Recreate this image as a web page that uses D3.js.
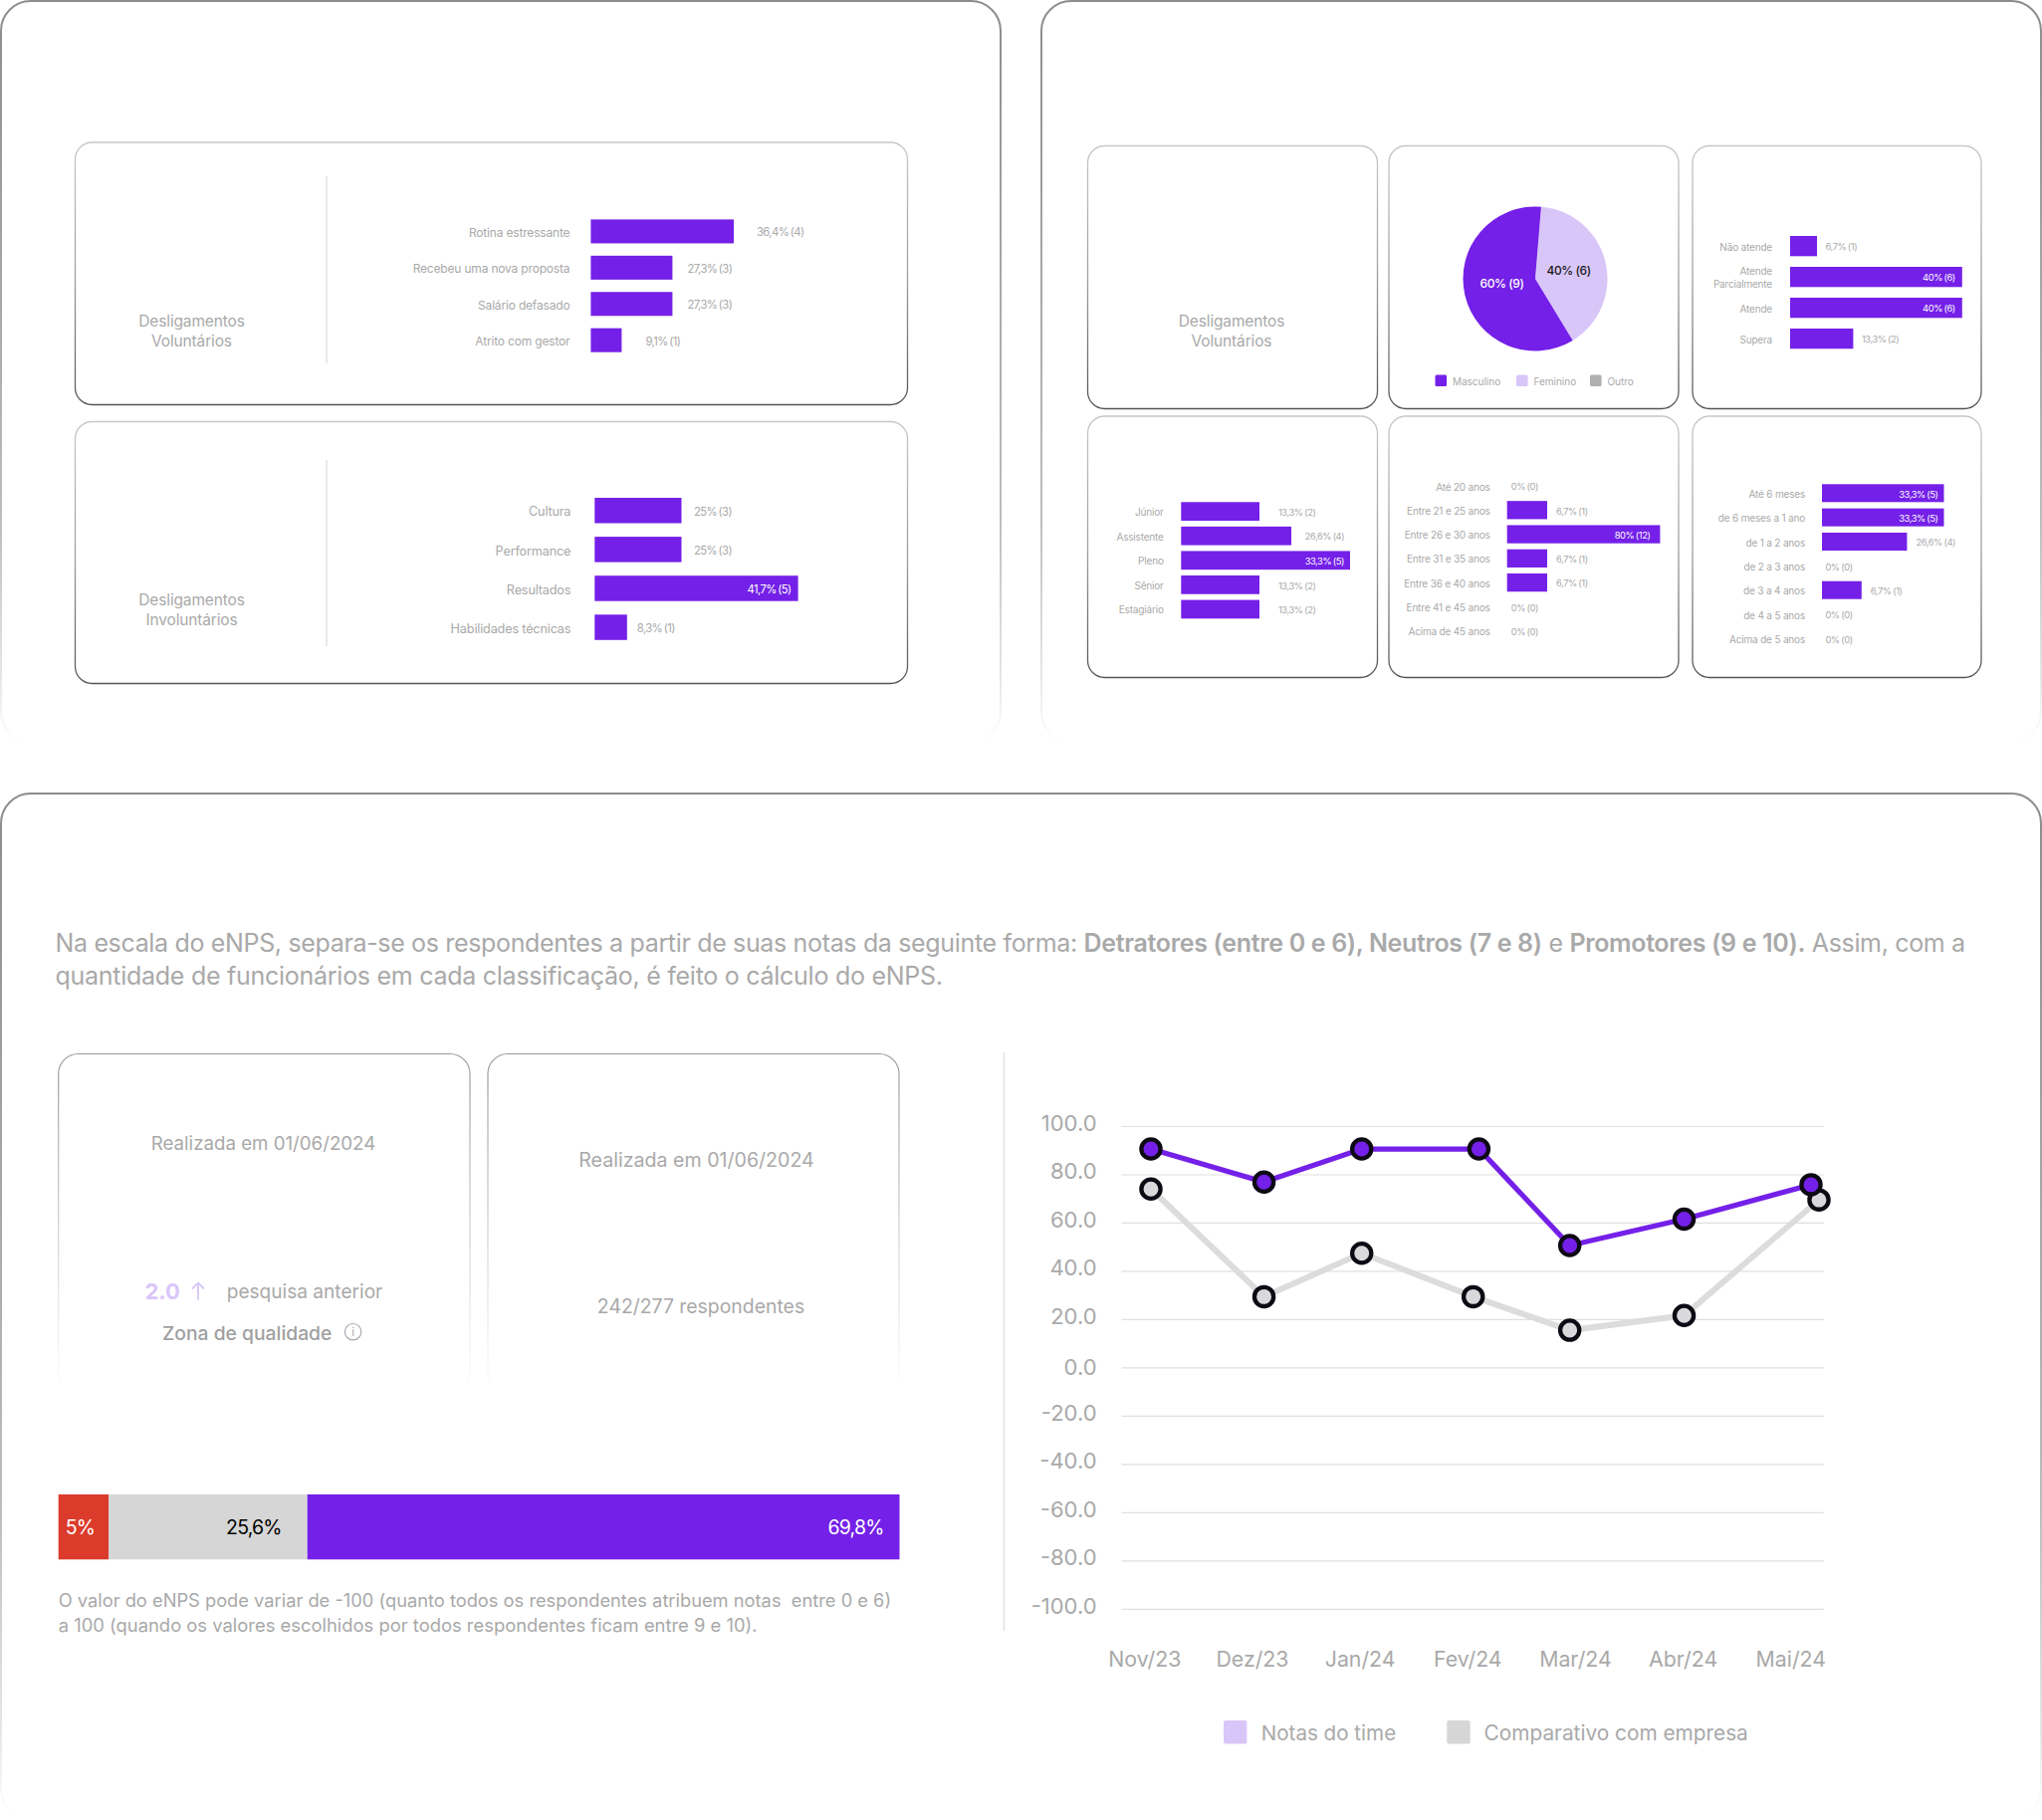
<!DOCTYPE html>
<html lang="pt">
<head>
<meta charset="utf-8">
<script src="https://cdn.jsdelivr.net/npm/d3@7"></script>
<style>
  body { margin: 0; background: #fff; }
  svg { display: block; font-family: "Inter", sans-serif; }
  text { fill: #a9a9a9; }
</style>
</head>
<body>
<div id="chart"></div>
<script>
// Motivos de desligamento
const voluntaryLabels = ["Rotina estressante", "Recebeu uma nova proposta", "Salário defasado", "Atrito com gestor"];
const voluntaryValues = [36.4, 27.3, 27.3, 9.1];
const voluntaryCounts = [4, 3, 3, 1];

const involuntaryLabels = ["Cultura", "Performance", "Resultados", "Habilidades técnicas"];
const involuntaryValues = [25, 25, 41.7, 8.3];
const involuntaryCounts = [3, 3, 5, 1];

// Perfil dos desligados
const genderLabels = ["Feminino", "Masculino", "Outro"];
const genderValues = [40, 60, 0];
const genderCounts = [6, 9, 0];

const performanceLabels = ["Não atende", "Atende\nParcialmente", "Atende", "Supera"];
const performanceValues = [6.7, 40, 40, 13.3];
const performanceCounts = [1, 6, 6, 2];

const levelLabels = ["Júnior", "Assistente", "Pleno", "Sênior", "Estagiário"];
const levelValues = [13.3, 26.6, 33.3, 13.3, 13.3];
const levelCounts = [2, 4, 5, 2, 2];

const ageLabels = ["Até 20 anos", "Entre 21 e 25 anos", "Entre 26 e 30 anos", "Entre 31 e 35 anos", "Entre 36 e 40 anos", "Entre 41 e 45 anos", "Acima de 45 anos"];
const ageValues = [0, 6.7, 80, 6.7, 6.7, 0, 0];
const ageCounts = [0, 1, 12, 1, 1, 0, 0];

const tenureLabels = ["Até 6 meses", "de 6 meses a 1 ano", "de 1 a 2 anos", "de 2 a 3 anos", "de 3 a 4 anos", "de 4 a 5 anos", "Acima de 5 anos"];
const tenureValues = [33.3, 33.3, 26.6, 0, 6.7, 0, 0];
const tenureCounts = [5, 5, 4, 0, 1, 0, 0];

// eNPS
const enpsLabels = ["Detratores", "Neutros", "Promotores"];
const enpsValues = [5, 25.6, 69.8];

const months = ["Nov/23", "Dez/23", "Jan/24", "Fev/24", "Mar/24", "Abr/24", "Mai/24"];
const teamScores = [90.5, 76.8, 90.5, 90.5, 50.5, 61.4, 75.7];
const companyScores = [73.9, 29.3, 47.3, 29.3, 15.4, 21.5, 69.4];
const yTicks = [100, 80, 60, 40, 20, 0, -20, -40, -60, -80, -100];

const purple = "#7420e8", lilac = "#d9c6f9", gray = "#d6d6d6", red = "#dc3b2b", textGray = "#a9a9a9";

const svg = d3.select("#chart").append("svg")
    .attr("width", 2051)
    .attr("height", 1828);

// Gradients for the card borders
const defs = svg.append("defs");
function addGradient(id, stops) {
    const g = defs.append("linearGradient").attr("id", id)
        .attr("x1", 0).attr("y1", 0).attr("x2", 0).attr("y2", 1);
    stops.forEach(s => g.append("stop").attr("offset", s[0]).attr("stop-color", s[1]));
}
addGradient("panelFade", [[0, "#8c8c8c"], [0.7, "#bdbdbd"], [0.92, "#e8e8e8"], [1, "#ffffff"]]);
addGradient("cardEdge", [[0, "#c8c8c8"], [0.5, "#a0a0a0"], [1, "#555555"]]);
addGradient("cardFade", [[0, "#999999"], [0.55, "#d4d4d4"], [1, "#ffffff"]]);

function box(x, y, w, h, r, stroke, sw) {
    svg.append("rect")
        .attr("x", x).attr("y", y).attr("width", w).attr("height", h)
        .attr("rx", r)
        .attr("fill", "none")
        .attr("stroke", `url(#${stroke})`)
        .attr("stroke-width", sw);
}

function label(x, y, str, size, anchor, color, weight, spacing) {
    return svg.append("text")
        .attr("x", x).attr("y", y).attr("dy", ".35em")
        .attr("text-anchor", anchor || "start")
        .style("font-size", size + "px")
        .style("font-weight", weight || 400)
        .style("letter-spacing", (spacing || 0) + "px")
        .style("fill", color || textGray)
        .text(str);
}

// Big panels
box(1, 1, 1004, 744, 30, "panelFade", 2);
box(1046, 1, 1004, 744, 30, "panelFade", 2);
box(1, 797, 2049, 1030, 30, "panelFade", 2);

// Inner cards
[[75.5, 143, 836, 263.5], [75.5, 423.5, 836, 263],
 [1092.5, 146.5, 291, 264], [1395, 146.5, 291, 264], [1700, 146.5, 290, 264],
 [1092.5, 418, 291, 262.5], [1395, 418, 291, 262.5], [1700, 418, 290, 262.5]]
    .forEach(c => box(c[0], c[1], c[2], c[3], 17, "cardEdge", 1.3));

[[177, 365], [462, 649]].forEach(d => {
    svg.append("line").attr("x1", 328).attr("x2", 328).attr("y1", d[0]).attr("y2", d[1])
        .attr("stroke", "#e2e2e2").attr("stroke-width", 1.5);
});

label(192.5, 323, "Desligamentos", 15.5, "middle", null, 400, -0.15);
label(192.5, 343, "Voluntários", 15.5, "middle", null, 400, -0.15);
label(192.5, 603, "Desligamentos", 15.5, "middle", null, 400, -0.15);
label(192.5, 623, "Involuntários", 15.5, "middle", null, 400, -0.15);
label(1237, 323, "Desligamentos", 15.5, "middle", null, 400, -0.15);
label(1237, 343, "Voluntários", 15.5, "middle", null, 400, -0.15);

const percent = (v, c) => `${String(v).replace(".", ",")}% (${c})`;

// Horizontal bars. The drawn lengths are not proportional in the original,
// so each chart has its own piecewise scale.
function barChart(cfg) {
    const x = d3.scaleLinear().domain(cfg.domain).range(cfg.lengths);
    const y = d3.scaleBand().domain(cfg.labels).range(cfg.yRange).paddingInner(cfg.pad);
    const top = d3.max(cfg.values);
    const g = svg.append("g").attr("transform", `translate(${cfg.x0},0)`);

    g.selectAll(".bar")
        .data(cfg.labels.filter((d, i) => cfg.values[i] > 0))
        .enter().append("rect")
        .attr("class", "bar")
        .attr("x", 0)
        .attr("y", d => y(d))
        .attr("width", d => x(cfg.values[cfg.labels.indexOf(d)]))
        .attr("height", y.bandwidth())
        .attr("fill", purple);

    cfg.labels.forEach((name, i) => {
        const cy = y(name) + y.bandwidth() / 2;
        const lines = name.split("\n");
        lines.forEach((line, k) => {
            g.append("text")
                .attr("x", cfg.labelRight)
                .attr("y", cy + (k - (lines.length - 1) / 2) * cfg.size * 1.35)
                .attr("dy", ".45em")
                .attr("text-anchor", "end")
                .style("font-size", (cfg.labelSize || cfg.size) + "px")
                .style("letter-spacing", "-0.18px")
                .text(line);
        });

        const v = cfg.values[i];
        const inside = cfg.inside && v === top;
        g.append("text")
            .attr("x", inside ? x(v) - cfg.insideGap : x(v) + cfg.gaps[i])
            .attr("y", cy)
            .attr("dy", ".45em")
            .attr("text-anchor", inside ? "end" : "start")
            .style("font-size", (cfg.size * 0.94) + "px")
            .style("letter-spacing", (cfg.size > 10 ? -0.6 : -0.45) + "px")
            .style("word-spacing", (cfg.size > 10 ? -1 : -0.6) + "px")
            .style("fill", inside ? "#fff" : textGray)
            .text(percent(v, cfg.counts[i]));
    });
}

barChart({
    labels: voluntaryLabels, values: voluntaryValues, counts: voluntaryCounts,
    x0: 593.4, yRange: [220.4, 353.7], pad: 0.34, size: 12,
    domain: [0, 9.1, 27.3, 36.4], lengths: [0, 31, 82, 143.6],
    labelRight: -21, gaps: [23, 15, 15, 24], inside: false
});
barChart({
    labels: involuntaryLabels, values: involuntaryValues, counts: involuntaryCounts,
    x0: 597.3, yRange: [500, 642.8], pad: 0.348, size: 12, labelSize: 12.7,
    domain: [0, 8.3, 25, 41.7], lengths: [0, 32.5, 87.2, 204.3],
    labelRight: -24, gaps: [12.5, 12.5, 0, 10], inside: true, insideGap: 7
});
barChart({
    labels: performanceLabels, values: performanceValues, counts: performanceCounts,
    x0: 1798, yRange: [237, 350.3], pad: 0.345, size: 10,
    domain: [0, 6.7, 13.3, 40], lengths: [0, 27, 63.4, 172.8],
    labelRight: -18, gaps: [8.5, 0, 0, 8.5], inside: true, insideGap: 7
});
barChart({
    labels: levelLabels, values: levelValues, counts: levelCounts,
    x0: 1186.3, yRange: [504.3, 621.3], pad: 0.238, size: 10,
    domain: [0, 13.3, 26.6, 33.3], lengths: [0, 78.7, 110.7, 169.7],
    labelRight: -17.6, gaps: [19, 13.6, 0, 19, 19], inside: true, insideGap: 6
});
barChart({
    labels: ageLabels, values: ageValues, counts: ageCounts,
    x0: 1513.7, yRange: [478.9, 642.8], pad: 0.247, size: 10,
    domain: [0, 6.7, 80], lengths: [0, 40.3, 153.7],
    labelRight: -17, gaps: [4, 9, 0, 9, 9, 4, 4], inside: true, insideGap: 10
});
barChart({
    labels: tenureLabels, values: tenureValues, counts: tenureCounts,
    x0: 1830, yRange: [486.3, 650.4], pad: 0.26, size: 10,
    domain: [0, 6.7, 26.6, 33.3], lengths: [0, 39.8, 85.4, 122.5],
    labelRight: -17, gaps: [0, 0, 9, 3.4, 9, 3.4, 3.4], inside: true, insideGap: 6
});

// Pie
const pieStart = 4.7 * Math.PI / 180;
const pie = d3.pie().sort(null).startAngle(pieStart).endAngle(pieStart + 2 * Math.PI);
const arc = d3.arc().innerRadius(0).outerRadius(72.5);
const pieColors = [lilac, purple, "#b0b0b0"];
const pieGroup = svg.append("g").attr("transform", "translate(1542,280)");
pieGroup.selectAll("path")
    .data(pie(genderValues))
    .enter().append("path")
    .attr("d", arc)
    .attr("fill", (d, i) => pieColors[i]);

label(1575.6, 271.7, percent(genderValues[0], genderCounts[0]), 12, "middle", "#1a1a1a", 500, -0.4);
label(1508.5, 284.7, percent(genderValues[1], genderCounts[1]), 12, "middle", "#fff", 500, -0.4);

// Pie legend
const pieLegend = [
    {name: genderLabels[1], color: purple, x: 1441.5},
    {name: genderLabels[0], color: lilac, x: 1523},
    {name: genderLabels[2], color: "#b0b0b0", x: 1597}
];
pieLegend.forEach(d => {
    svg.append("rect").attr("x", d.x).attr("y", 376.4).attr("width", 11.6).attr("height", 11.6)
        .attr("rx", 1.5).attr("fill", d.color);
    label(d.x + 17.4, 383, d.name, 10);
});

// Intro text
const intro = svg.append("text").attr("x", 55.5).attr("y", 947).attr("dy", ".35em")
    .style("font-size", "25px").style("letter-spacing", "-0.34px");
[["Na escala do eNPS, separa-se os respondentes a partir de suas notas da seguinte forma: ", 400],
 ["Detratores (entre 0 e 6), Neutros (7 e 8)", 600],
 [" e ", 400],
 ["Promotores (9 e 10).", 600],
 [" Assim, com a", 400]].forEach(p => {
    intro.append("tspan").style("font-weight", p[1]).text(p[0]);
});
label(55.5, 980.4, "quantidade de funcionários em cada classificação, é feito o cálculo do eNPS.", 25, "start", null, 400, -0.27);

// Summary cards, open at the bottom
box(58.7, 1058.5, 413.3, 340, 20, "cardFade", 1.2);
box(490, 1058.5, 413, 340, 20, "cardFade", 1.2);
svg.append("rect").attr("x", 50).attr("y", 1391).attr("width", 860).attr("height", 14).attr("fill", "#fff");

label(264.5, 1148.3, "Realizada em 01/06/2024", 18.7, "middle");
label(699.5, 1165, "Realizada em 01/06/2024", 19.6, "middle");
label(145.4, 1297.3, "2.0", 22, "start", lilac, 700);
label(227.7, 1297.7, "pesquisa anterior", 19.1);
svg.append("path")
    .attr("d", "M199 1305.5V1288.5M193 1294.5L199 1288.5L205 1294.5")
    .attr("fill", "none").attr("stroke", lilac).attr("stroke-width", 1.8);
label(163, 1339.4, "Zona de qualidade", 19.3, "start", "#a0a0a0", 500);
svg.append("circle").attr("cx", 354.6).attr("cy", 1337.7).attr("r", 8.2)
    .attr("fill", "none").attr("stroke", textGray).attr("stroke-width", 1.2);
label(354.6, 1337.7, "i", 11, "middle");
label(704, 1312.4, "242/277 respondentes", 19.4, "middle");

// eNPS stacked bar
const stackStops = d3.cumsum(enpsValues);
const stackX = d3.scaleLinear()
    .domain([0, stackStops[0], stackStops[1], stackStops[2]])
    .range([58.7, 109, 308.7, 903.5]);
const stackColors = [red, gray, purple];
const stackText = ["#fff", "#000", "#fff"];
svg.selectAll(".stack")
    .data(enpsLabels)
    .enter().append("rect")
    .attr("class", "stack")
    .attr("x", (d, i) => stackX(i ? stackStops[i - 1] : 0))
    .attr("y", 1501)
    .attr("width", (d, i) => stackX(stackStops[i]) - stackX(i ? stackStops[i - 1] : 0))
    .attr("height", 65.3)
    .attr("fill", (d, i) => stackColors[i]);
enpsValues.forEach((v, i) => {
    label(stackX(stackStops[i]) - (i === 0 ? 13.8 : i === 1 ? 26 : 16), 1534,
        String(v).replace(".", ",") + "%", 19.5, "end", stackText[i], 400, -0.8);
});

label(58.7, 1607.3, "O valor do eNPS pode variar de -100 (quanto todos os respondentes atribuem notas  entre 0 e 6)", 18.3)
    .attr("xml:space", "preserve");
label(58.7, 1632.3, "a 100 (quando os valores escolhidos por todos respondentes ficam entre 9 e 10).", 18.4);

// Line chart
svg.append("line").attr("x1", 1008.5).attr("x2", 1008.5).attr("y1", 1057).attr("y2", 1638)
    .attr("stroke", "#e2e2e2").attr("stroke-width", 1.5);

const xScale = d3.scalePoint().domain(months).range([1149.3, 1798.3]);
const yScale = d3.scaleLinear().domain([-100, 100]).range([1615.8, 1131]);

const yAxis = d3.axisLeft(yScale)
    .tickValues(yTicks)
    .tickSize(-705.4)
    .tickPadding(25)
    .tickFormat(d => d.toFixed(1));
const yG = svg.append("g").attr("transform", "translate(1126.6,0)").call(yAxis);
yG.select(".domain").remove();
yG.selectAll("line").attr("stroke", "#e0e0e0").attr("stroke-width", 1.2);
yG.selectAll("text")
    .attr("dy", d => d === 0 ? ".32em" : ".2em")
    .style("font-size", "22px")
    .style("font-family", "Inter, sans-serif");

const xAxis = d3.axisBottom(xScale).tickSize(0).tickPadding(0);
const xG = svg.append("g").attr("transform", "translate(0,1666.4)").call(xAxis);
xG.select(".domain").remove();
xG.selectAll("text").attr("dy", ".35em").style("font-size", "21.3px").style("font-family", "Inter, sans-serif");

// The dots sit a little off their month labels in the original
const teamNudge = [6.7, 12.1, 2.1, 11.6, -5.3, 1.4, 20.7];
const companyNudge = [6.7, 12.1, 2.1, 5.9, -5.3, 1.4, 28.7];

function series(values, nudge, lineColor, lineWidth, dotFill) {
    const pts = months.map((m, i) => [xScale(m) + nudge[i], yScale(values[i])]);
    svg.append("path")
        .attr("d", d3.line()(pts))
        .attr("fill", "none")
        .attr("stroke", lineColor)
        .attr("stroke-width", lineWidth);
    svg.selectAll(null)
        .data(pts)
        .enter().append("circle")
        .attr("cx", d => d[0])
        .attr("cy", d => d[1])
        .attr("r", 9.6)
        .attr("fill", dotFill)
        .attr("stroke", "#0e0a14")
        .attr("stroke-width", 4.3);
}
series(companyScores, companyNudge, "#dcdcdc", 6, "#d9d9dc");
series(teamScores, teamNudge, purple, 5.2, purple);

// Line chart legend
svg.append("rect").attr("x", 1229).attr("y", 1728).attr("width", 23.4).attr("height", 23.4).attr("rx", 2).attr("fill", lilac);
label(1266.7, 1740.8, "Notas do time", 20.6);
svg.append("rect").attr("x", 1453.3).attr("y", 1728).attr("width", 23.4).attr("height", 23.4).attr("rx", 2).attr("fill", gray);
label(1490.6, 1740.8, "Comparativo com empresa", 20.8);
</script>
</body>
</html>
